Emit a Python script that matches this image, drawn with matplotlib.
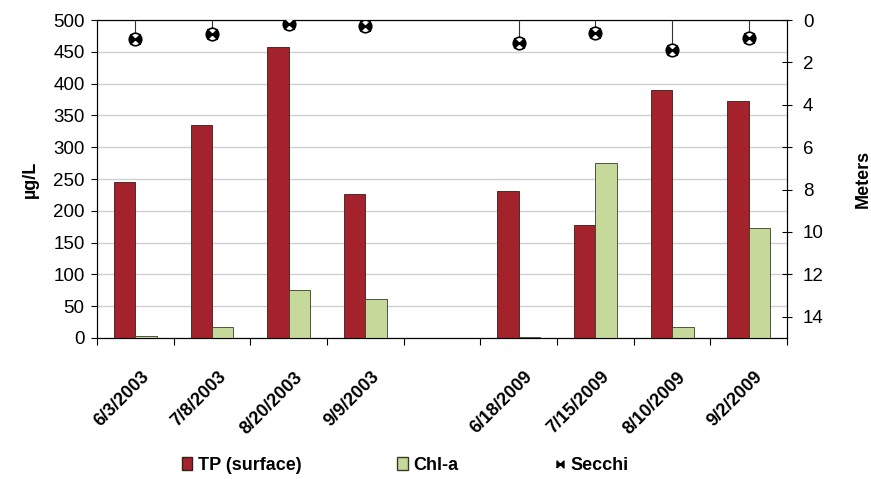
import numpy as np
import matplotlib
matplotlib.use('Agg')
import matplotlib.pyplot as plt
from matplotlib.lines import Line2D
from matplotlib.patches import Patch

plt.rcParams['font.family'] = ['Liberation Sans', 'DejaVu Sans']

dates = ['6/3/2003', '7/8/2003', '8/20/2003', '9/9/2003', '',
         '6/18/2009', '7/15/2009', '8/10/2009', '9/2/2009']
tp = [245, 335, 457, 226, np.nan, 231, 178, 390, 373]
chla = [3, 17, 76, 62, np.nan, 2, 275, 18, 173]
secchi = [0.9, 0.65, 0.2, 0.3, np.nan, 1.1, 0.6, 1.4, 0.85]

tp_color = '#A3222B'
chl_color = '#C5D99A'

fig = plt.figure(figsize=(8.71, 4.79), dpi=100)
ax = fig.add_axes([0.1114, 0.2944, 0.7922, 0.6638])

x = np.arange(len(dates))
w = 0.28
ax.bar(x - w / 2, tp, w, color=tp_color, edgecolor='#3a1a1a', linewidth=0.6,
       label='TP (surface)', zorder=3)
ax.bar(x + w / 2, chla, w, color=chl_color, edgecolor='#3a3a2a', linewidth=0.6,
       label='Chl-a', zorder=3)

ax.set_xlim(-0.5, len(dates) - 0.5)
ax.set_ylim(0, 500)
ax.set_yticks(range(0, 501, 50))
ax.yaxis.grid(True, color='#d0d0d0', linewidth=1)
ax.set_axisbelow(True)
ax.set_xticks(np.arange(-0.5, len(dates)), minor=False)
ax.set_xticklabels([])
ax.set_xticks(x + 0.07, minor=True)
ax.set_xticklabels(dates, minor=True, rotation=45, ha='right', va='top',
                   rotation_mode='anchor', fontsize=13, fontweight='bold')
ax.tick_params(axis='x', which='minor', length=0, pad=22)
ax.tick_params(axis='x', which='major', length=5, direction='out')
ax.tick_params(axis='y', labelsize=13.5, length=4, pad=5)
ax.set_ylabel('µg/L', fontsize=13, fontweight='bold', labelpad=10)
for s in ax.spines.values():
    s.set_color('#222222')

ax2 = ax.twinx()
ax2.set_ylim(15, 0)
ax2.set_yticks(range(0, 15, 2))
ax2.tick_params(axis='y', labelsize=13.5, direction='inout', length=7, pad=8)
ax2.vlines(x, 0, secchi, color='#333333', linewidth=0.8, zorder=4)
bowtie = [(-1, -1), (1, 1), (1, -1), (-1, 1), (-1, -1)]
ax2.plot(x, secchi, linestyle='none', marker='o', markersize=9,
         markerfacecolor='white', markeredgecolor='black', markeredgewidth=1.2,
         zorder=5)
ax2.plot(x, secchi, linestyle='none', marker=bowtie, markersize=7,
         markerfacecolor='black', markeredgecolor='black', zorder=6)
ax2.set_ylabel('Meters', fontsize=13, fontweight='bold', labelpad=22)

handles = [Patch(facecolor=tp_color, edgecolor='#3a1a1a'),
           Patch(facecolor=chl_color, edgecolor='#3a3a2a'),
           Line2D([], [], linestyle='none', marker=bowtie, markersize=5,
                  color='black')]
fig.legend(handles, ['TP (surface)', 'Chl-a', 'Secchi'], loc='center',
           bbox_to_anchor=(0.465, 0.028), ncol=3, frameon=False,
           columnspacing=5.3, handlelength=0.6, handletextpad=0.3,
           prop={'size': 13, 'weight': 'bold'})

fig.savefig('out.png', dpi=100)
